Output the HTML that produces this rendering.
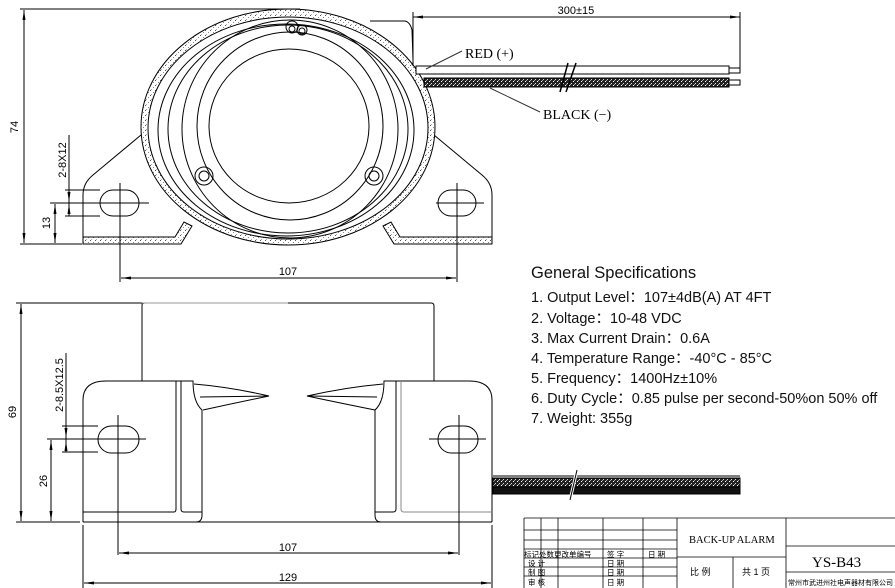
<!DOCTYPE html>
<html><head><meta charset="utf-8"><style>
html,body{margin:0;padding:0;background:#fff;}
svg{display:block;}
.t{font-family:"Liberation Sans",sans-serif;}
.s{font-family:"Liberation Serif",serif;}
</style></head><body>
<svg width="895" height="588" viewBox="0 0 895 588" xmlns="http://www.w3.org/2000/svg">
<defs>
<pattern id="dots" width="5" height="5" patternUnits="userSpaceOnUse">
<rect width="5" height="5" fill="#fff"/>
<rect x="0" y="0" width="1" height="1" fill="#555"/>
<rect x="3" y="2" width="1" height="1" fill="#888"/>
<rect x="1" y="4" width="1" height="1" fill="#aaa"/>
</pattern>
<pattern id="dark" width="4" height="4" patternUnits="userSpaceOnUse">
<rect width="4" height="4" fill="#222"/>
<rect x="1" y="1" width="1" height="1" fill="#fff"/>
<rect x="3" y="3" width="1" height="1" fill="#ddd"/>
<rect x="2" y="0" width="1" height="1" fill="#aaa"/>
</pattern>
<marker id="ar" markerWidth="10" markerHeight="6" refX="10" refY="3" orient="auto-start-reverse" markerUnits="userSpaceOnUse">
<path d="M0,1.5 L10,3 L0,4.5 Z" fill="#000"/>
</marker>
</defs>
<g fill="none" stroke="#000" stroke-width="1">
<!-- TOP VIEW -->
<path d="M83,244 L83,195 Q83,183 93,175 L141,135"/>
<path d="M492,244 L492,195 Q492,183 482,175 L434,135"/>
<path d="M83,237 L175,237 L184,222 L192,226 L181,244 L83,244 Z" fill="url(#dots)"/>
<path d="M492,237 L400,237 L391,222 L383,226 L394,244 L492,244 Z" fill="url(#dots)"/>
<ellipse cx="288" cy="127" rx="147" ry="118" fill="url(#dots)"/>
<ellipse cx="288" cy="128" rx="140" ry="111" fill="#fff"/>
<ellipse cx="286" cy="130" rx="128" ry="106"/>
<ellipse cx="288" cy="129" rx="120" ry="104"/>
<ellipse cx="290" cy="129" rx="108" ry="109"/>
<ellipse cx="290" cy="126" rx="93" ry="94"/>
<ellipse cx="289" cy="126" rx="80" ry="77"/>
<circle cx="292" cy="27" r="6"/><circle cx="292" cy="29" r="3"/>
<circle cx="302" cy="30" r="5"/><circle cx="302" cy="31" r="3"/>
<circle cx="204" cy="176" r="9"/><circle cx="204" cy="176" r="5"/>
<circle cx="374" cy="176" r="9"/><circle cx="374" cy="176" r="5"/>
<rect x="100" y="190" width="39" height="26" rx="13"/>
<rect x="438" y="190" width="38" height="26" rx="13"/>
<line x1="120" y1="183" x2="120" y2="282"/><line x1="83" y1="203" x2="149" y2="203"/>
<line x1="457" y1="183" x2="457" y2="282"/><line x1="436" y1="203" x2="484" y2="203"/>
<path d="M370,21 L405,21 Q410,22 412,30 L413,60"/>
<rect x="416" y="66" width="313" height="8" fill="#fff"/>
<rect x="729" y="68" width="11" height="5"/>
<rect x="424" y="78" width="305" height="9" fill="url(#dark)"/>
<rect x="729" y="80" width="11" height="5"/>
<line x1="560" y1="92" x2="568" y2="63" stroke-width="1.5"/>
<line x1="566" y1="92" x2="576" y2="63" stroke-width="1.5"/>
<line x1="426" y1="69" x2="462" y2="51" stroke="#333"/>
<line x1="490" y1="88" x2="540" y2="112" stroke="#333"/>
<line x1="413" y1="12" x2="413" y2="66"/><line x1="740" y1="12" x2="740" y2="68"/>
<line x1="413" y1="17" x2="740" y2="17" marker-start="url(#ar)" marker-end="url(#ar)"/>
<line x1="20" y1="9" x2="300" y2="9"/><line x1="20" y1="244" x2="82" y2="244"/>
<line x1="24" y1="10" x2="24" y2="243" marker-start="url(#ar)" marker-end="url(#ar)"/>
<line x1="50" y1="203" x2="83" y2="203"/>
<line x1="55" y1="204" x2="55" y2="243" marker-start="url(#ar)" marker-end="url(#ar)"/>
<line x1="65" y1="190" x2="100" y2="190"/><line x1="65" y1="216" x2="100" y2="216"/>
<line x1="69" y1="135" x2="69" y2="216"/>
<line x1="69" y1="193" x2="69" y2="202" marker-end="url(#ar)"/>
<line x1="69" y1="213" x2="69" y2="204" marker-end="url(#ar)"/>
<line x1="121" y1="278" x2="456" y2="278" marker-start="url(#ar)" marker-end="url(#ar)"/>

<!-- BOTTOM VIEW -->
<path d="M142,381 L142,305 Q142,303 145,303 L431,303 Q434,303 434,306 L434,381"/>
<line x1="142" y1="303" x2="288" y2="303" stroke="#999"/>
<path d="M83,522 L83,400 Q83,381 106,381 L193,381 Q193,402 202,410 L202,515 Q202,522 196,522"/>
<path d="M492,522 L492,400 Q492,381 469,381 L384,381 Q384,402 375,410 L375,515 Q375,522 381,522"/>
<line x1="83" y1="522" x2="492" y2="522"/>
<path d="M83,512 L174,512 Q176,512 176,509 L176,381"/>
<path d="M181,381 L181,509 Q181,512 184,512 L202,512"/>
<path d="M492,512 L404,512 Q401,512 401,509 L401,381" stroke="#888"/>
<path d="M396,381 L396,509 Q396,512 393,512 L375,512"/>
<path d="M194,384 Q230,387 269,396 Q235,403 203,410"/>
<line x1="200" y1="397" x2="269" y2="396"/>
<path d="M383,384 Q347,387 307,396 Q340,403 375,410"/>
<line x1="377" y1="397" x2="307" y2="396"/>
<rect x="98" y="426" width="41" height="27" rx="13.5"/>
<rect x="438" y="426" width="40" height="27" rx="13.5"/>
<line x1="118" y1="415" x2="118" y2="555"/><line x1="93" y1="439" x2="146" y2="439"/>
<line x1="459" y1="415" x2="459" y2="555"/><line x1="429" y1="439" x2="486" y2="439"/>
<rect x="493" y="478" width="247" height="9" fill="url(#dark)"/>
<rect x="493" y="487" width="247" height="7" fill="#111"/>
<line x1="493" y1="476" x2="740" y2="476"/>
<line x1="570" y1="500" x2="577" y2="470" stroke="#fff" stroke-width="3"/>
<line x1="570" y1="500" x2="577" y2="470"/>
<line x1="16" y1="303" x2="142" y2="303"/><line x1="16" y1="522" x2="80" y2="522"/>
<line x1="21" y1="304" x2="21" y2="521" marker-start="url(#ar)" marker-end="url(#ar)"/>
<line x1="47" y1="439" x2="98" y2="439"/>
<line x1="51" y1="440" x2="51" y2="521" marker-start="url(#ar)" marker-end="url(#ar)"/>
<line x1="62" y1="426" x2="98" y2="426"/><line x1="62" y1="452" x2="98" y2="452"/>
<line x1="66" y1="353" x2="66" y2="452"/>
<line x1="66" y1="428" x2="66" y2="438" marker-end="url(#ar)"/>
<line x1="66" y1="451" x2="66" y2="441" marker-end="url(#ar)"/>
<line x1="119" y1="553" x2="458" y2="553" marker-start="url(#ar)" marker-end="url(#ar)"/>
<line x1="83" y1="525" x2="83" y2="588"/><line x1="492" y1="525" x2="492" y2="588"/>
<line x1="84" y1="583" x2="491" y2="583" marker-start="url(#ar)" marker-end="url(#ar)"/>

<g stroke-width="0.8">
<line x1="524" y1="518" x2="895" y2="518"/>
<line x1="524" y1="518" x2="524" y2="588"/>
<line x1="541" y1="518" x2="541" y2="588"/>
<line x1="558" y1="518" x2="558" y2="588"/>
<line x1="603" y1="518" x2="603" y2="588"/>
<line x1="643" y1="518" x2="643" y2="588"/>
<line x1="677" y1="518" x2="677" y2="588"/>
<line x1="786" y1="518" x2="786" y2="588"/>
<line x1="733" y1="557" x2="733" y2="588"/>
<line x1="524" y1="530" x2="677" y2="530"/>
<line x1="524" y1="540" x2="677" y2="540"/>
<line x1="524" y1="549" x2="677" y2="549"/>
<line x1="524" y1="558" x2="677" y2="558"/>
<line x1="524" y1="567" x2="677" y2="567"/>
<line x1="524" y1="576" x2="677" y2="576"/>
<line x1="677" y1="557" x2="786" y2="557"/>
<line x1="786" y1="546" x2="895" y2="546"/>
<line x1="786" y1="572" x2="895" y2="572"/>
</g>
</g>
<g font-size="11" class="t" fill="#000">
<text x="576" y="14" text-anchor="middle">300±15</text>
<text x="288" y="275" text-anchor="middle">107</text>
<text x="288" y="551" text-anchor="middle">107</text>
<text x="288" y="581" text-anchor="middle">129</text>
<text transform="translate(18,127) rotate(-90)" text-anchor="middle">74</text>
<text transform="translate(50,223) rotate(-90)" text-anchor="middle">13</text>
<text transform="translate(66,160) rotate(-90)" text-anchor="middle">2-8X12</text>
<text transform="translate(16,412) rotate(-90)" text-anchor="middle">69</text>
<text transform="translate(47,481) rotate(-90)" text-anchor="middle">26</text>
<text transform="translate(63,385) rotate(-90)" text-anchor="middle">2-8.5X12.5</text>
</g>
<g class="s" font-size="14" fill="#000">
<text x="465" y="58">RED (+)</text>
<text x="543" y="119">BLACK (−)</text>
</g>
<g class="t" fill="#111">
<text x="531" y="278" font-size="16.5">General Specifications</text>
<g font-size="14.5">
<text x="531" y="302">1. Output Level：107±4dB(A) AT 4FT</text>
<text x="531" y="323">2. Voltage：10-48 VDC</text>
<text x="531" y="343">3. Max Current Drain：0.6A</text>
<text x="531" y="363">4. Temperature Range：-40°C - 85°C</text>
<text x="531" y="383">5. Frequency：1400Hz±10%</text>
<text x="531" y="403">6. Duty Cycle：0.85 pulse per second-50%on 50% off</text>
<text x="531" y="423">7. Weight: 355g</text>
</g>
</g>
<g font-family="Liberation Serif, Noto Serif CJK SC, serif" fill="#000">
<text x="689" y="543" font-size="10.5">BACK-UP  ALARM</text>
<text x="812" y="567" font-size="15">YS-B43</text>
<g font-size="7.5" font-family="Liberation Sans, Noto Sans CJK SC, sans-serif">
<text x="524" y="557">标记处数更改单编号</text>
<text x="607" y="557">签  字</text><text x="648" y="557">日  期</text>
<text x="528" y="566">设  计</text><text x="607" y="566">日  期</text>
<text x="528" y="575">制  图</text><text x="607" y="575">日  期</text>
<text x="528" y="585">审  核</text><text x="607" y="585">日  期</text>
<text x="690" y="575" font-size="9">比  例</text>
<text x="742" y="575" font-size="9">共 1 页</text>
<text x="788" y="585" font-size="7">常州市武进州社电声器材有限公司</text>
</g>
</g>
</svg>
</body></html>
